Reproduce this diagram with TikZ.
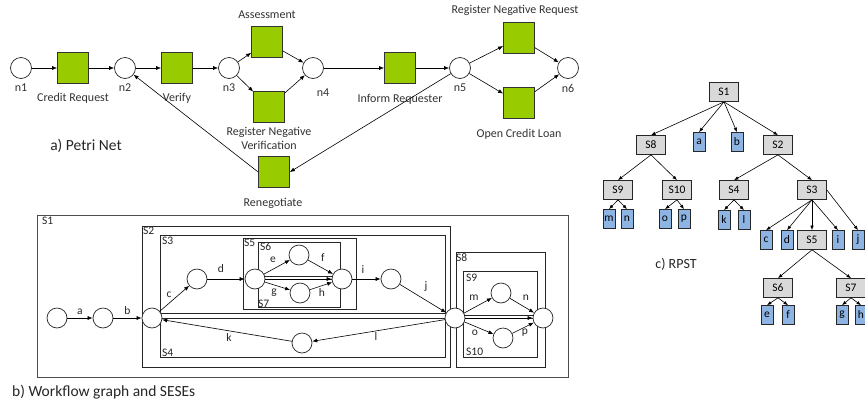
\documentclass[tikz,border=0pt]{standalone}
\usepackage{fontspec}
\setmainfont{Carlito}
\usetikzlibrary{arrows.meta}
\definecolor{pgreen}{RGB}{153,204,0}
\definecolor{sgray}{RGB}{217,217,217}
\definecolor{lblue}{RGB}{142,180,227}
\definecolor{txt}{RGB}{50,50,50}
\begin{document}
\begin{tikzpicture}[x=1pt,y=-1pt,
  place/.style={circle,draw=black!85,fill=white,minimum size=21pt,inner sep=0pt,line width=0.7pt},
  trans/.style={rectangle,draw=black!80,fill=pgreen,minimum size=31pt,inner sep=0pt,line width=0.7pt},
  lbl/.style={font=\fontsize{12}{14}\selectfont,text=txt,inner sep=1pt,align=center},
  captxt/.style={font=\fontsize{15.5}{18}\selectfont,text=black!85,inner sep=0pt},
  arr/.style={-{Latex[length=5pt,width=4pt]},line width=0.6pt},
  wnode/.style={circle,draw=black!85,fill=white,minimum size=20pt,inner sep=0pt,line width=0.7pt},
  sbox/.style={draw=black!85,line width=0.8pt},
  slbl/.style={font=\fontsize{11.5}{13}\selectfont,text=black!85,inner sep=0pt},
  elbl/.style={font=\fontsize{11.5}{13}\selectfont,text=black!85,inner sep=0pt},
  snode/.style={rectangle,draw=black!85,fill=sgray,minimum width=29pt,minimum height=19pt,inner sep=0pt,font=\fontsize{11.5}{13}\selectfont,line width=0.7pt},
  leaf/.style={rectangle,draw=black!85,fill=lblue,minimum width=12pt,minimum height=19pt,inner sep=0pt,font=\fontsize{11.5}{13}\selectfont,line width=0.7pt},
  tarr/.style={-{Latex[length=4.5pt,width=3.5pt]},line width=0.6pt}
]
\useasboundingbox (0,0) rectangle (865,405);

% ---------- a) Petri net ----------
\node[place] (n1) at (21,68) {};
\node[trans] (t1) at (73,68) {};
\node[place] (n2) at (125,68) {};
\node[trans] (t2) at (177,68) {};
\node[place] (n3) at (229,68) {};
\node[trans] (t3) at (267,42) {};
\node[trans] (t4) at (269,107) {};
\node[place] (n4) at (313,68) {};
\node[trans] (t5) at (400,68) {};
\node[place] (n5) at (460,68) {};
\node[trans] (t6) at (519,38) {};
\node[trans] (t7) at (519,103) {};
\node[place] (n6) at (568,68) {};
\node[trans] (t8) at (274,172) {};

\node[lbl] (ln1) at (21,88) {n1};
\node[lbl] (ln2) at (125,88) {n2};
\node[lbl] (ln3) at (229,88) {n3};
\node[lbl] (ln4) at (323,93) {n4};
\node[lbl] (ln5) at (460,88) {n5};
\node[lbl] (ln6) at (568,88) {n6};
\node[lbl] (lt1) at (73,98) {Credit Request};
\node[lbl] (lt2) at (177,98) {Verify};
\node[lbl] (lt3) at (267,15) {Assessment};
\node[lbl] (lt4) at (269,138) {Register Negative\\Verification};
\node[lbl] (lt5) at (400,99) {Inform Requester};
\node[lbl] (lt6) at (515,10) {Register Negative Request};
\node[lbl] (lt7) at (519,134) {Open Credit Loan};
\node[lbl] (lt8) at (273,203) {Renegotiate};
\node[captxt] (capa) at (86,146) {a) Petri Net};

\draw[arr] (n1) -- (t1);
\draw[arr] (t1) -- (n2);
\draw[arr] (n2) -- (t2);
\draw[arr] (t2) -- (n3);
\draw[arr] (n3) -- (t3);
\draw[arr] (n3) -- (t4);
\draw[arr] (t3) -- (n4);
\draw[arr] (t4) -- (n4);
\draw[arr] (n4) -- (t5);
\draw[arr] (t5) -- (n5);
\draw[arr] (n5) -- (t6);
\draw[arr] (n5) -- (t7);
\draw[arr] (t6) -- (n6);
\draw[arr] (t7) -- (n6);
\draw[arr] (n5) -- (t8.east);
\draw[arr] (t8.west) -- (n2);

% ---------- b) Workflow graph ----------
\draw[sbox,draw=black!70] (37,215) rectangle (568,377);
\draw[sbox] (142,226) rectangle (450,367);
\draw[sbox] (160,235) rectangle (445,313);
\draw[sbox] (160,318) rectangle (445,357);
\draw[sbox] (243,238) rectangle (356,309);
\draw[sbox] (258,242) rectangle (340,276.2);
\draw[sbox] (258,279) rectangle (340,307);
\draw[sbox] (456,252) rectangle (545,367);
\draw[sbox] (463,271) rectangle (537,315.2);
\draw[sbox] (463,318) rectangle (537,357);

\node[slbl,anchor=north west] (lS1) at (42,217) {S1};
\node[slbl,anchor=north west] (lS2) at (143,227) {S2};
\node[slbl,anchor=north west] (lS3) at (162,237) {S3};
\node[slbl,anchor=south west] (lS4) at (162,357) {S4};
\node[slbl,anchor=north west] (lS5) at (244,239) {S5};
\node[slbl,anchor=north west] (lS6) at (260,243) {S6};
\node[slbl,anchor=south west] (lS7) at (258,307.5) {S7};
\node[slbl,anchor=north west] (lS8) at (456,253) {S8};
\node[slbl,anchor=north west] (lS9) at (466,274) {S9};
\node[slbl,anchor=south west] (lS10) at (466,356) {S10};

\node[wnode] (w1) at (57,318) {};
\node[wnode] (w2) at (103,318) {};
\node[wnode] (w3) at (152,318) {};
\node[wnode] (w4) at (197,279) {};
\node[wnode] (w5) at (255,279) {};
\node[wnode] (w6) at (299,255) {};
\node[wnode] (w7) at (300,293) {};
\node[wnode] (w8) at (342,279) {};
\node[wnode] (w9) at (391,279) {};
\node[wnode] (w10) at (455,318) {};
\node[wnode] (w11) at (302,343) {};
\node[wnode] (w12) at (501,293) {};
\node[wnode] (w13) at (503,338) {};
\node[wnode] (w14) at (543,318) {};

\draw[arr] (w1) -- node[elbl,above=3pt] (ea) {a} (w2);
\draw[arr] (w2) -- node[elbl,above=3pt] (eb) {b} (w3);
\draw[arr] (w3) -- (w4);
\draw[arr] (w4) -- (w5);
\draw[arr] (w5) -- (w6);
\draw[arr] (w5) -- (w7);
\draw[arr] (w6) -- (w8);
\draw[arr] (w7) -- (w8);
\draw[arr] (w5) -- (w8);
\draw[arr] (w8) -- (w9);
\draw[arr] (w9) -- (w10);
\draw[arr] (w10) -- (w11);
\draw[arr] (w11) -- (w3);
\draw[arr] (w10) -- (w12);
\draw[arr] (w10) -- (w13);
\draw[arr] (w12) -- (w14);
\draw[arr] (w13) -- (w14);
\draw[arr] (w10) -- (w14);

\node[elbl] (ec) at (169,295) {c};
\node[elbl] (ed) at (221,269) {d};
\node[elbl] (ee) at (273,260) {e};
\node[elbl] (ef) at (323,258) {f};
\node[elbl] (eg) at (274,293) {g};
\node[elbl] (eh) at (322,293) {h};
\node[elbl] (ei) at (363,270) {i};
\node[elbl] (ej) at (426,287) {j};
\node[elbl] (ek) at (229,338) {k};
\node[elbl] (el) at (376,337) {l};
\node[elbl] (em) at (474,298) {m};
\node[elbl] (en) at (526,298) {n};
\node[elbl] (eo) at (475,333) {o};
\node[elbl] (ep) at (525,333) {p};

\node[captxt,anchor=west] (capb) at (12,392) {b) Workflow graph and SESEs};

% ---------- c) RPST ----------
\node[snode] (S1) at (724,92) {S1};
\node[leaf] (a) at (699,142) {a};
\node[leaf] (b) at (737,142) {b};
\node[snode] (S8) at (651,145) {S8};
\node[snode] (S2) at (778,145) {S2};
\node[snode] (S9) at (618,190) {S9};
\node[snode] (S10) at (677,190) {S10};
\node[snode] (S4) at (734,190) {S4};
\node[snode] (S3) at (812,190) {S3};
\node[leaf] (m) at (609,219) {m};
\node[leaf] (n) at (627,219) {n};
\node[leaf] (o) at (665,219) {o};
\node[leaf] (p) at (684,219) {p};
\node[leaf] (k) at (724,220) {k};
\node[leaf] (l) at (744,220) {l};
\node[leaf] (c) at (766,240) {c};
\node[leaf] (d) at (787,240) {d};
\node[snode] (S5) at (812,240) {S5};
\node[leaf] (i) at (838,240) {i};
\node[leaf] (j) at (858,240) {j};
\node[snode] (S6) at (778,288) {S6};
\node[snode] (S7) at (851,288) {S7};
\node[leaf] (e) at (767,315) {e};
\node[leaf] (f) at (788,315) {f};
\node[leaf] (g) at (842,315) {g};
\node[leaf] (h) at (861,315) {h};

\foreach \ch in {S8,a,b,S2} \draw[tarr] (S1.south) -- (\ch.north);
\foreach \ch in {S9,S10} \draw[tarr] (S8.south) -- (\ch.north);
\foreach \ch in {S4,S3} \draw[tarr] (S2.south) -- (\ch.north);
\foreach \ch in {m,n} \draw[tarr] (S9.south) -- (\ch.north);
\foreach \ch in {o,p} \draw[tarr] (S10.south) -- (\ch.north);
\foreach \ch in {k,l} \draw[tarr] (S4.south) -- (\ch.north);
\foreach \ch in {c,d,S5,i} \draw[tarr] (S3.south) -- (\ch.north);
\draw[tarr] (S3.east) -- (j.north);
\foreach \ch in {S6,S7} \draw[tarr] (S5.south) -- (\ch.north);
\foreach \ch in {e,f} \draw[tarr] (S6.south) -- (\ch.north);
\foreach \ch in {g,h} \draw[tarr] (S7.south) -- (\ch.north);

\node[captxt,font=\fontsize{14}{16}\selectfont] (capc) at (676,264) {c) RPST};
\end{tikzpicture}
\end{document}
